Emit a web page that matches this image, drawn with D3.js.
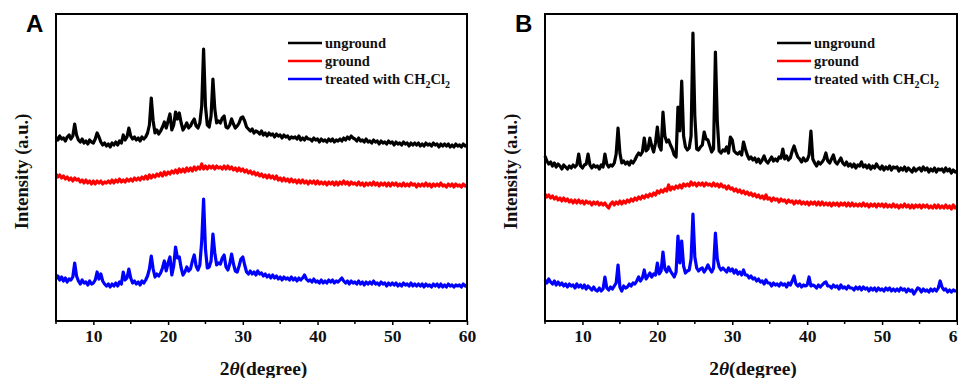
<!DOCTYPE html>
<html>
<head>
<meta charset="utf-8">
<script src="https://cdn.jsdelivr.net/npm/d3@7"></script>
<style>
  body { margin: 0; background: #fff; }
  svg { display: block; }
  text { font-family: "Liberation Serif", "Times New Roman", serif; font-weight: bold; }
</style>
</head>
<body>
<svg id="chart" width="958" height="378"></svg>
<script>
// 2theta sampling grid, 5..60 deg every 0.25 deg
const twoTheta = d3.range(0, 221).map(i => 5 + i * 0.25);
const xTicks = [10, 20, 30, 40, 50, 60];
const xMinorTicks = [5, 15, 25, 35, 45, 55];
const seriesNames = ["unground", "ground", "treated with CH2Cl2"];
const seriesColors = ["#000000", "#ff0000", "#0000ff"];

// panel A (intensity, a.u.)
const ungroundA = [
  184,181,185,182, 183,180,184,186, 182,185,197,186, 181,179,182,178, 180,177,181,179,
  178,182,188,184, 179,176,178,175, 177,174,178,176, 179,176,180,178, 186,181,184,193,
  185,182,184,181, 183,180,184,182, 184,188,196,223, 200,188,191,187, 190,194,199,193,
  200,207,191,196, 209,202,208,198, 191,194,198,193, 195,199,202,195, 193,198,215,272,
  215,196,194,205, 242,212,198,200, 198,203,205,194, 193,196,202,197, 193,195,198,203,
  204,200,194,192, 190,192,188,190, 189,187,190,186, 188,185,188,186, 187,184,187,185,
  186,183,186,184, 185,182,184,183, 184,182,185,181, 183,181,184,182, 182,180,183,181,
  182,179,182,180, 181,179,182,180, 182,179,181,180, 182,180,183,181, 184,182,185,183,
  182,180,183,180, 181,179,182,179, 180,178,181,179, 180,177,180,178, 179,177,180,178,
  179,176,179,177, 178,176,179,177, 178,175,178,176, 178,176,178,175, 177,175,178,176,
  177,175,178,176, 177,174,177,175, 177,175,177,174, 176,174,177,175, 176,174,177,175,
  176
];
const groundA = [
  147,144,146,143, 145,142,144,141, 143,140,143,141, 142,139,141,138, 141,138,140,137,
  140,137,140,138, 140,137,139,138, 140,138,141,138, 141,139,142,139, 141,139,142,140,
  142,140,143,141, 143,141,144,142, 145,142,146,143, 146,144,147,145, 148,145,149,146,
  149,147,150,148, 151,148,152,149, 152,149,153,150, 153,150,154,151, 154,152,157,152,
  155,152,155,153, 155,152,155,153, 154,152,155,152, 155,152,154,151, 153,150,153,150,
  152,149,151,148, 150,147,149,146, 148,145,147,144, 146,143,146,143, 145,142,145,141,
  143,140,143,140, 142,139,142,139, 141,138,141,138, 141,138,140,137, 140,138,140,137,
  140,137,139,137, 139,136,139,137, 139,136,139,136, 139,137,140,137, 139,136,139,137,
  138,136,139,136, 138,135,138,136, 138,136,139,136, 138,135,138,136, 138,135,138,135,
  138,136,138,135, 137,135,138,135, 137,135,138,136, 137,134,137,135, 137,135,138,135,
  137,134,137,135, 137,135,138,135, 136,134,137,135, 137,134,137,135, 136,134,137,135,
  136
];
const treatedA = [
  42,45,41,44, 40,43,39,42, 41,44,58,45, 40,37,41,38, 39,36,40,37,
  38,41,49,42, 47,40,37,35, 37,34,37,35, 38,35,39,37, 49,41,43,52,
  43,38,40,37, 39,36,40,38, 41,45,52,65, 52,44,47,45, 48,53,60,50,
  58,64,46,55, 74,63,64,53, 46,49,54,50, 52,60,66,55, 51,56,80,122,
  72,53,54,60, 87,68,56,58, 57,63,66,54, 51,57,67,57, 50,49,55,62,
  64,56,49,47, 50,47,49,46, 50,47,48,45, 47,44,46,43, 46,43,45,42,
  44,41,44,42, 43,41,44,41, 43,40,43,41, 43,46,42,40, 41,39,42,39,
  40,38,41,38, 40,38,41,39, 41,38,40,39, 41,43,40,38, 40,37,40,38,
  39,37,40,37, 39,36,39,37, 39,37,40,37, 38,36,39,37, 38,35,38,36,
  38,36,38,35, 37,35,38,36, 37,35,38,35, 37,35,37,35, 37,34,37,35,
  36,34,37,35, 37,34,37,34, 36,34,37,35, 36,34,36,35, 36,34,37,35,
  36
];

// panel B (intensity, a.u.)
const ungroundB = [
  165,160,157,159, 155,158,154,157, 155,152,156,154, 152,155,153,156, 154,156,167,155,
  153,156,157,167, 156,153,156,154, 155,152,156,154, 167,157,154,156, 155,158,167,193,
  168,158,160,157, 159,156,160,158, 161,165,168,166, 169,183,170,172, 183,175,169,178,
  194,175,171,209, 185,179,181,176, 172,166,164,214, 190,240,185,174, 171,173,185,288,
  205,172,171,174, 176,189,182,181, 175,169,172,269, 200,170,168,171, 170,174,168,184,
  181,170,168,167, 169,166,179,172, 166,162,164,161, 163,159,162,158, 161,165,160,158,
  161,164,160,162, 160,164,163,172, 162,165,161,163, 170,175,169,164, 162,159,163,160,
  161,166,190,162, 158,155,159,157, 159,162,168,160, 158,162,166,159, 157,160,163,158,
  156,159,155,157, 154,157,153,156, 155,159,154,156, 153,156,152,155, 153,157,154,152,
  155,151,154,152, 155,151,154,153, 154,150,153,151, 154,150,153,151, 149,153,150,152,
  153,150,154,151, 153,149,152,150, 153,149,152,151, 152,149,153,150, 152,148,151,149,
  150
];
const groundB = [
  127,124,126,123, 125,122,124,121, 123,120,123,120, 122,119,121,118, 121,118,121,118,
  120,117,120,118, 119,116,119,117, 119,116,118,116, 118,115,113,117, 119,116,119,117,
  120,117,120,118, 121,119,122,120, 123,121,124,122, 125,123,126,124, 127,125,128,126,
  130,128,131,129, 132,130,136,131, 134,132,135,133, 136,133,137,135, 137,135,139,136,
  138,135,138,136, 138,135,138,136, 137,135,138,135, 137,134,137,134, 135,132,135,132,
  133,130,132,129, 131,128,130,127, 129,126,128,125, 127,124,126,123, 125,122,126,122,
  123,120,123,121, 122,119,122,120, 121,118,121,119, 120,117,120,118, 120,117,119,117,
  119,116,119,117, 119,116,119,116, 119,116,118,116, 118,115,118,116, 118,115,118,116,
  118,115,118,115, 118,115,117,115, 117,115,118,115, 117,114,117,115, 117,114,117,115,
  117,114,117,114, 116,114,117,114, 116,113,116,114, 117,114,116,113, 116,113,116,114,
  116,113,116,114, 116,113,115,113, 116,113,116,113, 115,113,116,113, 115,112,116,113,
  115
];
const treatedB = [
  41,38,42,39, 37,40,36,39, 36,38,35,37, 34,37,35,36, 33,37,34,36,
  33,36,32,35, 33,31,34,31, 30,33,30,32, 44,33,31,34, 32,35,38,56,
  34,30,35,33, 34,37,35,38, 37,40,44,40, 43,51,42,45, 48,44,47,46,
  58,47,50,69, 52,49,54,50, 47,44,49,85, 58,80,55,48, 50,51,62,107,
  64,53,50,52, 53,49,52,56, 52,49,53,88, 62,54,51,53, 51,49,53,50,
  52,48,51,47, 49,46,51,46, 46,43,45,42, 43,40,42,39, 40,37,41,38,
  38,35,38,36, 37,35,38,36, 37,34,38,36, 40,45,37,35, 37,34,36,35,
  36,44,35,36, 35,33,36,34, 36,38,39,35, 35,33,36,34, 35,32,36,33,
  34,32,35,33, 33,31,34,32, 34,31,34,32, 33,30,33,31, 33,30,33,31,
  32,30,33,31, 33,30,32,30, 32,30,33,31, 32,29,32,30, 31,27,30,33,
  32,29,32,30, 31,29,32,30, 32,30,33,40, 34,31,32,29, 31,29,31,30,
  30
];

const panels = [
  { label: "A", left: 56, right: 467, series: [ungroundA, groundA, treatedA] },
  { label: "B", left: 545, right: 957, series: [ungroundB, groundB, treatedB] }
];

const plotTop = 14, plotBottom = 321;
const svg = d3.select("#chart");

panels.forEach(p => {
  const x = d3.scaleLinear().domain([5, 60]).range([p.left, p.right]);
  const y = d3.scaleLinear().domain([0, 307]).range([plotBottom, plotTop]);
  const g = svg.append("g");

  // traces
  const line = d3.line()
    .x((d, i) => x(twoTheta[i]))
    .y(d => y(d));
  p.series.forEach((s, k) => {
    g.append("path")
      .attr("d", line(s))
      .attr("fill", "none")
      .attr("stroke", seriesColors[k])
      .attr("stroke-width", 3.2)
      .attr("stroke-linejoin", "round");
  });

  // frame
  g.append("rect")
    .attr("x", p.left).attr("y", plotTop)
    .attr("width", p.right - p.left).attr("height", plotBottom - plotTop)
    .attr("fill", "none").attr("stroke", "#000").attr("stroke-width", 2);

  // x axis
  const ax = g.append("g").attr("transform", "translate(0," + plotBottom + ")");
  ax.call(d3.axisBottom(x).tickValues(xTicks).tickSize(4).tickSizeOuter(0).tickPadding(5));
  ax.select(".domain").remove();
  ax.selectAll("line").attr("stroke-width", 1.5);
  ax.selectAll("text")
    .attr("font-family", "Liberation Serif, serif")
    .attr("font-weight", "bold")
    .attr("font-size", 17.5)
    .attr("fill", "#111");
  g.selectAll(".minor")
    .data(xMinorTicks)
    .enter().append("line")
    .attr("x1", d => x(d)).attr("x2", d => x(d))
    .attr("y1", plotBottom).attr("y2", plotBottom + 3)
    .attr("stroke", "#000").attr("stroke-width", 1.5);

  // axis titles
  const xt = g.append("text")
    .attr("x", (p.left + p.right) / 2 + 2)
    .attr("y", 375)
    .attr("text-anchor", "middle")
    .attr("font-size", 19.5)
    .attr("fill", "#111");
  xt.append("tspan").text("2");
  xt.append("tspan").attr("font-style", "italic").text("θ");
  xt.append("tspan").text("(degree)");

  g.append("text")
    .attr("transform", "translate(" + (p.left - 28) + "," + ((plotTop + plotBottom) / 2 + 4) + ") rotate(-90)")
    .attr("text-anchor", "middle")
    .attr("font-size", 18.5)
    .attr("fill", "#111")
    .text("Intensity (a.u.)");

  // panel letter
  g.append("text")
    .attr("x", p.left - 30).attr("y", 32)
    .style("font-family", "Liberation Sans, Arial, sans-serif")
    .attr("font-size", 24)
    .attr("fill", "#000")
    .text(p.label);

  // legend
  const lx = p.left + 232;
  const lys = [43, 61, 79];
  seriesNames.forEach((name, k) => {
    g.append("line")
      .attr("x1", lx).attr("x2", lx + 34)
      .attr("y1", lys[k]).attr("y2", lys[k])
      .attr("stroke", seriesColors[k]).attr("stroke-width", 2.6);
    const t = g.append("text")
      .attr("x", lx + 37).attr("y", lys[k] + 4.5)
      .attr("font-size", 14.5)
      .attr("fill", "#111");
    if (k === 2) {
      t.append("tspan").text("treated with CH");
      t.append("tspan").attr("font-size", 10).attr("dy", 4).text("2");
      t.append("tspan").attr("dy", -4).text("Cl");
      t.append("tspan").attr("font-size", 10).attr("dy", 4).text("2");
    } else {
      t.text(name);
    }
  });
});
</script>
</body>
</html>
